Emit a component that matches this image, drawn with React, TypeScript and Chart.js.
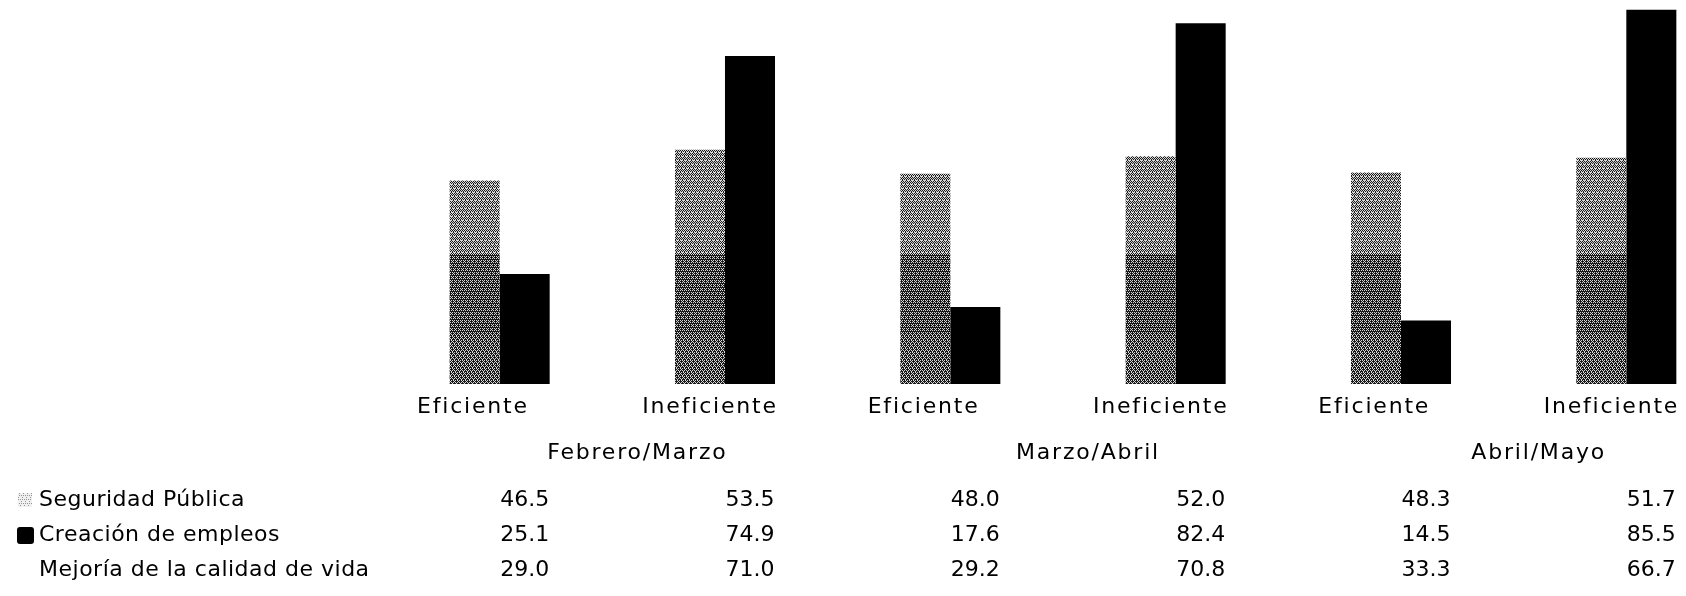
import React, { useEffect, useRef } from "react";
import { Chart, registerables } from "chart.js";

Chart.register(...registerables);

const categories = ["Eficiente", "Ineficiente", "Eficiente", "Ineficiente", "Eficiente", "Ineficiente"];
const periods = ["Febrero/Marzo", "Marzo/Abril", "Abril/Mayo"];
const seriesNames = ["Seguridad Pública", "Creación de empleos", "Mejoría de la calidad de vida"];
const seguridad = [46.5, 53.5, 48.0, 52.0, 48.3, 51.7];
const empleos = [25.1, 74.9, 17.6, 82.4, 14.5, 85.5];
const calidad = [29.0, 71.0, 29.2, 70.8, 33.3, 66.7];

const CANVAS_W = 1770;
const CANVAS_H = 596;
const FONT = '"DejaVu Sans", sans-serif';

const BAYER = [
  [0, 8, 2, 10],
  [12, 4, 14, 6],
  [3, 11, 1, 9],
  [15, 7, 13, 5],
];

function makeDither(ctx: CanvasRenderingContext2D, levelAt: (y: number) => number, dark: number, light: number): CanvasPattern | string {
  const c = document.createElement("canvas");
  c.width = 4;
  c.height = CANVAS_H;
  const g = c.getContext("2d");
  if (!g) return "#808080";
  const img = g.createImageData(4, CANVAS_H);
  for (let y = 0; y < CANVAS_H; y++) {
    const lvl = levelAt(y);
    for (let x = 0; x < 4; x++) {
      const t = (BAYER[y % 4][(x + Math.floor(y / 4)) % 4] + 0.5) / 16;
      const v = t < lvl ? light : dark;
      const k = (y * 4 + x) * 4;
      img.data[k] = v;
      img.data[k + 1] = v;
      img.data[k + 2] = v;
      img.data[k + 3] = 255;
    }
  }
  g.putImageData(img, 0, 0);
  return ctx.createPattern(c, "repeat") || "#808080";
}

export default function App() {
  const ref = useRef<HTMLCanvasElement | null>(null);

  useEffect(() => {
    const canvas = ref.current;
    if (!canvas) return;
    const ctx = canvas.getContext("2d");
    if (!ctx) return;
    const grayFill = makeDither(
      ctx,
      (y) => (y < 255 ? 0.55 : y < 335 ? 0.32 : 0.4),
      25,
      215
    );
    const legendGray = makeDither(ctx, () => 0.8, 150, 240);
    const seriesData = [seguridad, empleos, calidad];

    const tablePlugin = {
      id: "tablePlugin",
      afterDraw(chart: any) {
        const c = chart.ctx as CanvasRenderingContext2D;
        const xs = chart.scales.x;
        const area = chart.chartArea;
        const catW = (area.right - area.left) / categories.length;
        c.save();
        c.fillStyle = "#000";
        c.textBaseline = "middle";
        c.font = `22px ${FONT}`;
        (c as any).letterSpacing = "1.8px";
        categories.forEach((lab, i) => {
          const center = xs.getPixelForValue(i);
          c.textAlign = "left";
          c.fillText(lab, center - catW / 2 + 5, 407);
        });
        periods.forEach((p, j) => {
          const bound = xs.getPixelForValue(j * 2) + catW / 2;
          c.textAlign = "center";
          c.fillText(p, bound, 453);
        });
        const rowY = [500, 535, 570];
        (c as any).letterSpacing = "0.5px";
        seriesNames.forEach((name, r) => {
          if (r === 0) {
            c.fillStyle = legendGray as any;
            c.fillRect(18, rowY[r] - 7, 14, 14);
          } else if (r === 1) {
            c.fillStyle = "#000";
            c.beginPath();
            (c as any).roundRect(17, rowY[r] - 8, 17, 17, 3);
            c.fill();
          }
          c.fillStyle = "#000";
          c.textAlign = "left";
          c.fillText(name, 39, rowY[r]);
        });
        (c as any).letterSpacing = "0px";
        seriesData.forEach((arr, r) => {
          arr.forEach((v, i) => {
            const center = xs.getPixelForValue(i);
            c.textAlign = "center";
            c.fillText(v.toFixed(1), center, rowY[r]);
          });
        });
        c.restore();
      },
    };

    const chart = new Chart(ctx, {
      type: "bar",
      data: {
        labels: categories,
        datasets: [
          { label: seriesNames[0], data: seguridad, backgroundColor: grayFill as any, borderWidth: 0 },
          { label: seriesNames[1], data: empleos, backgroundColor: "#000000", borderWidth: 0 },
          { label: seriesNames[2], data: calidad, backgroundColor: "#ffffff", borderWidth: 0 },
        ],
      },
      options: {
        responsive: false,
        animation: false,
        devicePixelRatio: 1,
        layout: { padding: { left: 412, right: 6, top: 0, bottom: 212 } },
        datasets: { bar: { categoryPercentage: 0.666, barPercentage: 1.0 } },
        plugins: { legend: { display: false }, tooltip: { enabled: false }, title: { display: false } },
        scales: {
          x: { display: false },
          y: { display: false, min: 0, max: 87.7 },
        },
      },
      plugins: [tablePlugin],
    });
    return () => chart.destroy();
  }, []);

  return (
    <div
      style={{
        position: "absolute",
        left: 0,
        top: 0,
        width: 1686,
        height: 596,
        overflow: "hidden",
        background: "#ffffff",
      }}
    >
      <canvas ref={ref} width={CANVAS_W} height={CANVAS_H} style={{ display: "block", width: CANVAS_W, height: CANVAS_H }} />
    </div>
  );
}
